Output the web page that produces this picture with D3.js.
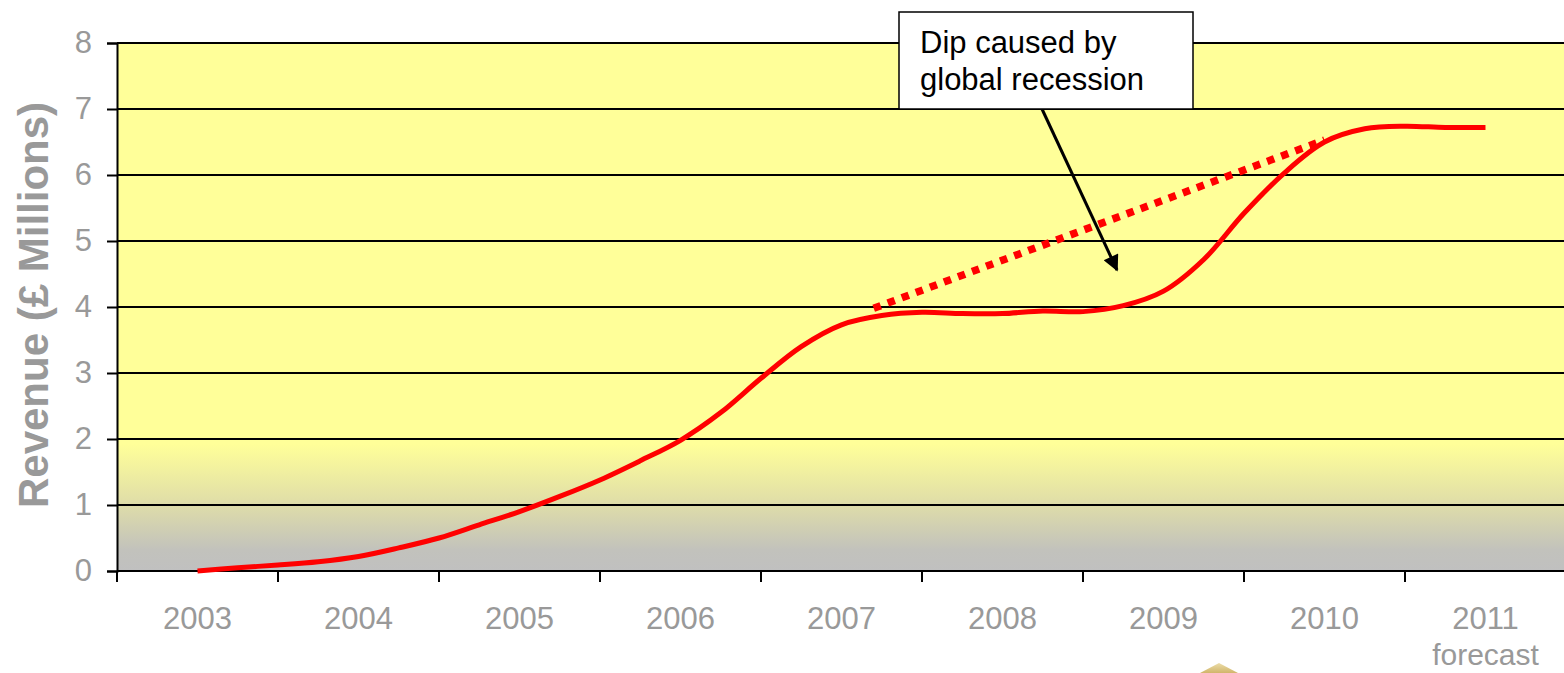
<!DOCTYPE html>
<html>
<head>
<meta charset="utf-8">
<script src="https://cdn.jsdelivr.net/npm/d3@7"></script>
<style>
  body { margin: 0; background: #fff; }
  svg { display: block; font-family: "Liberation Sans", Arial, sans-serif; }
</style>
</head>
<body>
<svg id="chart" width="1564" height="673"></svg>
<script>
// categories (one band per year)
const years = ["2003", "2004", "2005", "2006", "2007", "2008", "2009", "2010", "2011"];
const yTicks = [0, 1, 2, 3, 4, 5, 6, 7, 8];

// quarterly revenue, £ millions (2003.00 .. 2011.00)
const quarters = [
  2003, 2003.25, 2003.5, 2003.75, 2004, 2004.25, 2004.5, 2004.75,
  2005, 2005.25, 2005.5, 2005.75, 2006, 2006.25, 2006.5, 2006.75,
  2007, 2007.25, 2007.5, 2007.75, 2008, 2008.25, 2008.5, 2008.75,
  2009, 2009.25, 2009.5, 2009.75, 2010, 2010.25, 2010.5, 2010.75, 2011
];
const revenue = [
  0.0, 0.05, 0.09, 0.14, 0.22, 0.35, 0.5, 0.7,
  0.9, 1.13, 1.38, 1.67, 1.98, 2.4, 2.92, 3.4,
  3.73, 3.87, 3.92, 3.9, 3.9, 3.94, 3.93, 4.02,
  4.24, 4.72, 5.42, 6.03, 6.5, 6.7, 6.74, 6.72, 6.72
];

// trend without the recession (dotted)
const trendX = [2007.2, 2010.0];
const trendY = [3.98, 6.53];

const note = ["Dip caused by", "global recession"];

const svg = d3.select("#chart");
const plotL = 117, plotR = 1566, plotT = 43, plotB = 571;

const x = d3.scaleBand().domain(years).range([plotL, plotR]);
const bw = x.bandwidth();
const xt = d3.scaleLinear()
  .domain([+years[0], +years[years.length - 1]])
  .range([x(years[0]) + bw / 2, x(years[years.length - 1]) + bw / 2]);
const y = d3.scaleLinear().domain([0, 8]).range([plotB, plotT]);

// background gradient (yellow fading to grey near the bottom)
const defs = svg.append("defs");
const grad = defs.append("linearGradient")
  .attr("id", "bg").attr("x1", 0).attr("y1", 0).attr("x2", 0).attr("y2", 1);
grad.append("stop").attr("offset", "0%").attr("stop-color", "#FFFF99");
grad.append("stop").attr("offset", "76%").attr("stop-color", "#FFFF99");
grad.append("stop").attr("offset", "87%").attr("stop-color", "#E0DEA8");
grad.append("stop").attr("offset", "96%").attr("stop-color", "#C2C2BC");
grad.append("stop").attr("offset", "100%").attr("stop-color", "#C0C0C0");

const gold = defs.append("linearGradient")
  .attr("id", "gold").attr("x1", 0).attr("y1", 0).attr("x2", 0).attr("y2", 1);
gold.append("stop").attr("offset", "0%").attr("stop-color", "#E8D79A");
gold.append("stop").attr("offset", "100%").attr("stop-color", "#C9A850");

svg.append("rect")
  .attr("x", plotL).attr("y", plotT)
  .attr("width", plotR - plotL).attr("height", plotB - plotT)
  .attr("fill", "url(#bg)");

// gridlines
svg.append("g")
  .selectAll("line")
  .data(yTicks.filter(d => d > 0))
  .join("line")
    .attr("x1", plotL).attr("x2", plotR)
    .attr("y1", d => y(d)).attr("y2", d => y(d))
    .attr("stroke", "#000")
    .attr("stroke-width", 2);

// y axis
const yAxis = svg.append("g")
  .attr("transform", `translate(${plotL},0)`)
  .call(d3.axisLeft(y).tickValues(yTicks).tickSize(10).tickPadding(15));
yAxis.select(".domain").attr("stroke", "#000").attr("stroke-width", 2);
yAxis.selectAll(".tick line").attr("stroke", "#000").attr("stroke-width", 2);
yAxis.selectAll(".tick text")
  .attr("fill", "#999")
  .style("font-size", "31px")
  .style("font-family", "Liberation Sans, Arial, sans-serif");

// x axis: ticks on band boundaries, labels in band centres
const xa = svg.append("g");
xa.append("line")
  .attr("x1", plotL).attr("x2", plotR)
  .attr("y1", plotB).attr("y2", plotB)
  .attr("stroke", "#000").attr("stroke-width", 2);
xa.selectAll(".xt")
  .data(years.concat(["end"]))
  .join("line")
    .attr("class", "xt")
    .attr("x1", d => d === "end" ? plotR : x(d))
    .attr("x2", d => d === "end" ? plotR : x(d))
    .attr("y1", plotB).attr("y2", plotB + 11)
    .attr("stroke", "#000").attr("stroke-width", 2);
xa.selectAll(".xl")
  .data(years)
  .join("text")
    .attr("class", "xl")
    .attr("x", d => x(d) + bw / 2)
    .attr("y", 629)
    .attr("text-anchor", "middle")
    .attr("fill", "#999")
    .style("font-size", "31px")
    .text(d => d);
xa.append("text")
  .attr("x", x("2011") + bw / 2)
  .attr("y", 665)
  .attr("text-anchor", "middle")
  .attr("fill", "#999")
  .style("font-size", "30px")
  .text("forecast");

// y axis title
svg.append("text")
  .attr("transform", "translate(48,305) rotate(-90)")
  .attr("text-anchor", "middle")
  .attr("fill", "#999")
  .style("font-size", "42px")
  .style("font-weight", "bold")
  .text("Revenue (£ Millions)");

// dotted trend
svg.append("path")
  .datum(d3.zip(trendX, trendY))
  .attr("fill", "none")
  .attr("stroke", "#FF0000")
  .attr("stroke-width", 7.5)
  .attr("stroke-dasharray", "7.5 7.5")
  .attr("d", d3.line().x(d => xt(d[0])).y(d => y(d[1])));

// revenue line
svg.append("path")
  .datum(d3.zip(quarters, revenue))
  .attr("fill", "none")
  .attr("stroke", "#FF0000")
  .attr("stroke-width", 5)
  .attr("stroke-linejoin", "round")
  .attr("d", d3.line().curve(d3.curveCatmullRom).x(d => xt(d[0])).y(d => y(d[1])));

// annotation arrow
defs.append("marker")
  .attr("id", "arrow")
  .attr("viewBox", "0 0 10 10")
  .attr("refX", 9).attr("refY", 5)
  .attr("markerWidth", 18).attr("markerHeight", 16)
  .attr("markerUnits", "userSpaceOnUse")
  .attr("orient", "auto")
  .append("path")
    .attr("d", "M0,0 L10,5 L0,10 z")
    .attr("fill", "#000");

svg.append("line")
  .attr("x1", 1042).attr("y1", 109)
  .attr("x2", 1117).attr("y2", 270)
  .attr("stroke", "#000")
  .attr("stroke-width", 3)
  .attr("marker-end", "url(#arrow)");

// annotation box
const box = svg.append("g");
box.append("rect")
  .attr("x", 899).attr("y", 12)
  .attr("width", 294).attr("height", 97)
  .attr("fill", "#fff")
  .attr("stroke", "#000")
  .attr("stroke-width", 1.5);
box.selectAll("text")
  .data(note)
  .join("text")
    .attr("x", 920)
    .attr("y", (d, i) => 53 + i * 37)
    .attr("fill", "#000")
    .style("font-size", "31px")
    .text(d => d);

// bits of the slide logo peeking in at the bottom
svg.append("path")
  .attr("d", "M1200,673 L1219,663 L1238,673 Z")
  .attr("fill", "url(#gold)")
  .attr("opacity", 0.85);
</script>
</body>
</html>
